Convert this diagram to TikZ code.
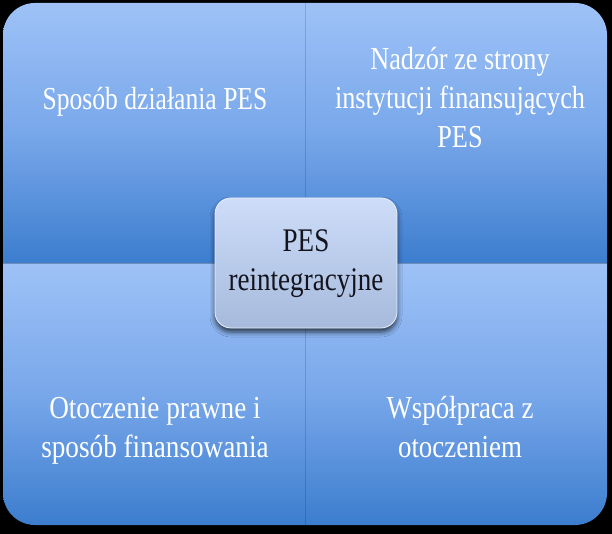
\documentclass[tikz,border=0pt]{standalone}
\usepackage{fontspec}
\setmainfont{Liberation Serif}
\usepackage{graphicx}
\usetikzlibrary{shadows.blur}
\definecolor{qtop}{RGB}{158,194,247}
\definecolor{qmid}{RGB}{120,167,234}
\definecolor{qbot}{RGB}{60,125,206}
\definecolor{ctop}{RGB}{205,221,249}
\definecolor{cbot}{RGB}{166,186,220}
\definecolor{ctext}{RGB}{20,20,30}
\newcommand\qlines[2]{\scalebox{#1}[1]{\begin{tabular}{@{}c@{}}#2\end{tabular}}}
\begin{document}
\begin{tikzpicture}[x=1pt,y=-1pt,
  quad/.style={top color=qtop, bottom color=qbot, middle color=qmid},
  qlabel/.style={text=white, inner sep=0pt, font=\fontsize{32}{39}\selectfont},
  hub/.style={rounded corners=16pt, minimum width=182pt, minimum height=130pt,
    top color=ctop, bottom color=cbot, draw=white!60!ctop, line width=0.8pt,
    text=ctext, inner sep=0pt, font=\fontsize{33}{40}\selectfont,
    blur shadow={shadow xshift=0pt, shadow yshift=-4pt, shadow blur radius=5pt, shadow opacity=70}}]
\fill[black] (0,0) rectangle (612,534);
\useasboundingbox (0,0) rectangle (612,534);
% quadrants
\shade[quad] (3,35) arc[start angle=180, end angle=270, radius=32] -- (305.5,3) -- (305.5,263.5) -- (3,263.5) -- cycle;
\shade[quad] (575,3) arc[start angle=270, end angle=360, radius=32] -- (607,263.5) -- (305.5,263.5) -- (305.5,3) -- cycle;
\shade[quad] (607,493) arc[start angle=0, end angle=90, radius=32] -- (305.5,525) -- (305.5,263.5) -- (607,263.5) -- cycle;
\shade[quad] (35,525) arc[start angle=90, end angle=180, radius=32] -- (3,263.5) -- (305.5,263.5) -- (305.5,525) -- cycle;
\draw[black, opacity=0.15, line width=1pt] (305.5,3) -- (305.5,525);
% labels
\node[qlabel] (tl) at (155,102.2) {\qlines{0.8}{Sposób działania PES}};
\node[qlabel] (tr) at (460,101.2) {\qlines{0.82}{Nadzór ze strony\\instytucji finansujących\\PES}};
\node[qlabel] (bl) at (155,429.7) {\qlines{0.85}{Otoczenie prawne i\\sposób finansowania}};
\node[qlabel] (br) at (460,429.7) {\qlines{0.84}{Współpraca z\\otoczeniem}};
% hub
\node[hub] (hub) at (306,263) {\qlines{0.82}{PES\\reintegracyjne}};
\end{tikzpicture}
\end{document}
